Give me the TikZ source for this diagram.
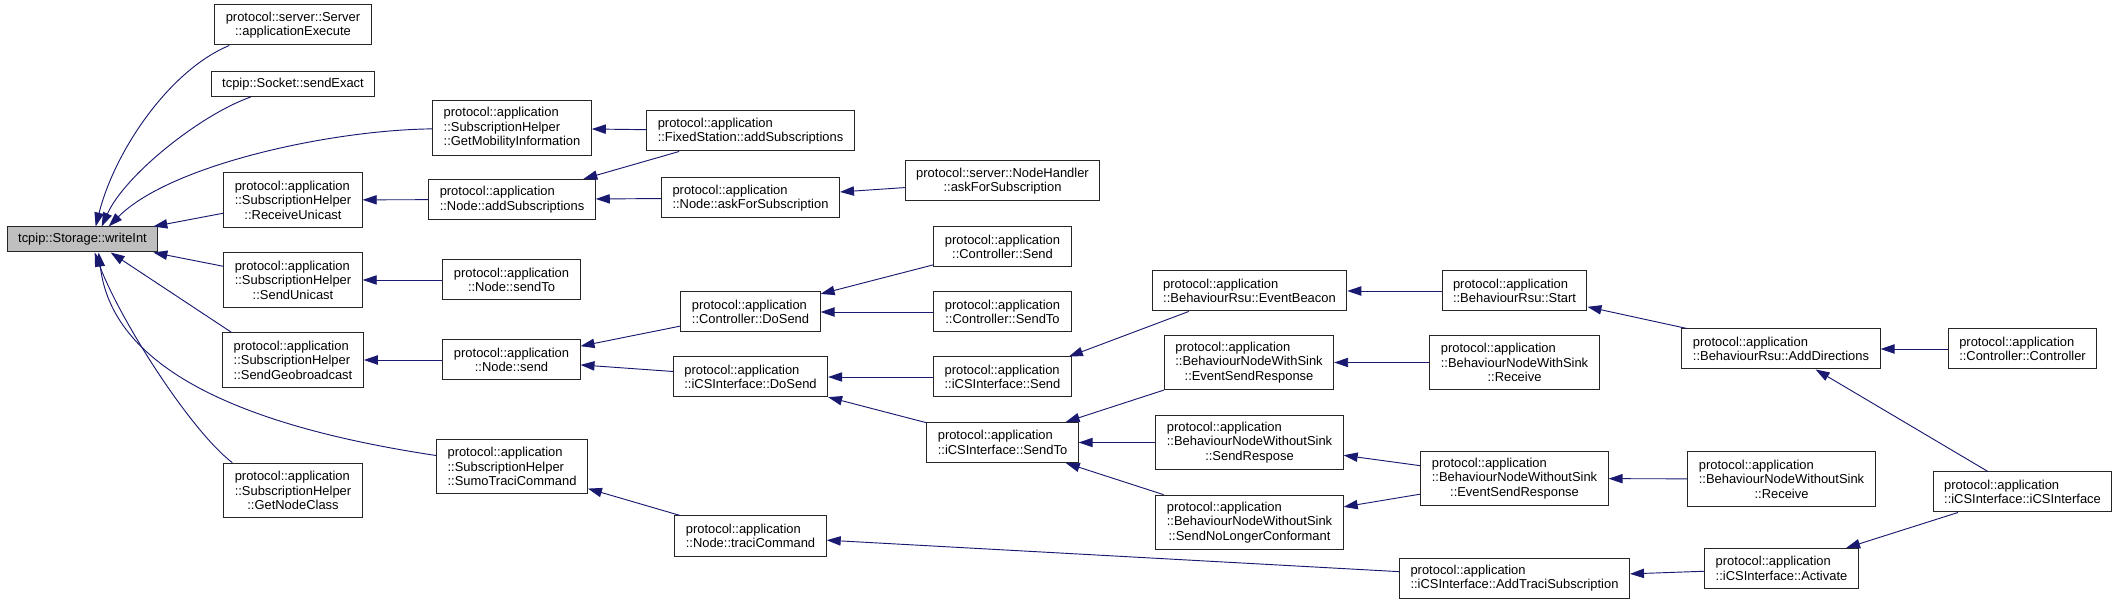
\documentclass[tikz,border=0pt]{standalone}
\usepackage{fontspec}
\setmainfont{Liberation Sans}
\usepackage{tikz}
\usepackage{xcolor}
\usetikzlibrary{arrows.meta,calc}
\definecolor{callblue}{RGB}{25,25,112}
\definecolor{focusgray}{RGB}{191,191,191}
\newcommand{\cl}[1]{\hspace*{\fill}#1\hspace*{\fill}}

\begin{document}
\begin{tikzpicture}[x=0.75pt,y=-0.75pt,>={Triangle[length=10.5pt,width=7pt]},
    fn/.style={draw=black!85,line width=0.75pt,fill=white,align=left,
      inner xsep=8.25pt,inner ysep=2pt,font=\fontsize{9.7}{10.8}\selectfont},
    one/.style={fn,minimum height=18.75pt},
    two/.style={fn,minimum height=30pt},
    three/.style={fn,minimum height=41pt},
    call/.style={->,draw=callblue,line width=0.7pt}]
  \useasboundingbox (0,0) rectangle (2120,605);
  % 被调用函数
  \node[one,fill=focusgray] (writeInt) at (82.5,239.5) {tcpip::Storage::writeInt};
  % 第一列
  \node[two] (apExec) at (293,25) {protocol::server::Server\\\cl{::applicationExecute}};
  \node[one] (sendExact) at (293,84) {tcpip::Socket::sendExact};
  \node[three] (recvUni) at (293,200) {protocol::application\\::SubscriptionHelper\\\cl{::ReceiveUnicast}};
  \node[three] (sendUni) at (293,280) {protocol::application\\::SubscriptionHelper\\\cl{::SendUnicast}};
  \node[three] (sendGeo) at (293,360) {protocol::application\\::SubscriptionHelper\\\cl{::SendGeobroadcast}};
  \node[three] (getNodeClass) at (293,490.5) {protocol::application\\::SubscriptionHelper\\\cl{::GetNodeClass}};
  % 第二列
  \node[three] (getMob) at (512,128) {protocol::application\\::SubscriptionHelper\\\cl{::GetMobilityInformation}};
  \node[two] (nodeAddSub) at (512,199.5) {protocol::application\\\cl{::Node::addSubscriptions}};
  \node[two] (nodeSendTo) at (511.5,280) {protocol::application\\\cl{::Node::sendTo}};
  \node[two] (nodeSend) at (511.5,360) {protocol::application\\\cl{::Node::send}};
  \node[three] (sumoTraci) at (512,466.5) {protocol::application\\::SubscriptionHelper\\\cl{::SumoTraciCommand}};
  % 第三列
  \node[two] (fixedAddSub) at (750.5,131) {protocol::application\\\cl{::FixedStation::addSubscriptions}};
  \node[two] (askForSub) at (750.5,198) {protocol::application\\\cl{::Node::askForSubscription}};
  \node[two] (ctrlDoSend) at (750.5,312) {protocol::application\\\cl{::Controller::DoSend}};
  \node[two] (icsDoSend) at (750.5,377) {protocol::application\\\cl{::iCSInterface::DoSend}};
  \node[two] (traciCmd) at (750.5,536) {protocol::application\\\cl{::Node::traciCommand}};
  % 第四列
  \node[two] (nhAskForSub) at (1002.5,181) {protocol::server::NodeHandler\\\cl{::askForSubscription}};
  \node[two] (ctrlSend) at (1002.5,247) {protocol::application\\\cl{::Controller::Send}};
  \node[two] (ctrlSendTo) at (1002.5,312) {protocol::application\\\cl{::Controller::SendTo}};
  \node[two] (icsSend) at (1002.5,377) {protocol::application\\\cl{::iCSInterface::Send}};
  \node[two] (icsSendTo) at (1002.5,442.5) {protocol::application\\\cl{::iCSInterface::SendTo}};
  % 第五列
  \node[two] (eventBeacon) at (1249.5,291) {protocol::application\\\cl{::BehaviourRsu::EventBeacon}};
  \node[three] (wsEventSR) at (1249,362.5) {protocol::application\\::BehaviourNodeWithSink\\\cl{::EventSendResponse}};
  \node[three] (wosSendResp) at (1249.5,442.5) {protocol::application\\::BehaviourNodeWithoutSink\\\cl{::SendRespose}};
  \node[three] (wosNoLonger) at (1249.5,522.5) {protocol::application\\::BehaviourNodeWithoutSink\\\cl{::SendNoLongerConformant}};
  % 第六列
  \node[two] (rsuStart) at (1514.5,291) {protocol::application\\\cl{::BehaviourRsu::Start}};
  \node[three] (wsReceive) at (1514.5,362.5) {protocol::application\\::BehaviourNodeWithSink\\\cl{::Receive}};
  \node[three] (wosEventSR) at (1514.5,478.5) {protocol::application\\::BehaviourNodeWithoutSink\\\cl{::EventSendResponse}};
  \node[two] (addTraciSub) at (1514.5,578) {protocol::application\\\cl{::iCSInterface::AddTraciSubscription}};
  % 第七列
  \node[two] (addDirections) at (1781,349) {protocol::application\\\cl{::BehaviourRsu::AddDirections}};
  \node[three] (wosReceive) at (1781.5,479) {protocol::application\\::BehaviourNodeWithoutSink\\\cl{::Receive}};
  \node[two] (activate) at (1781.5,568.5) {protocol::application\\\cl{::iCSInterface::Activate}};
  % 第八列
  \node[two] (ctrlCtor) at (2022.5,349) {protocol::application\\\cl{::Controller::Controller}};
  \node[two] (icsCtor) at (2022.5,492) {protocol::application\\\cl{::iCSInterface::iCSInterface}};

  % 指向 writeInt 的调用
  \draw[call] ($(apExec.south west)+(15,0)$) .. controls (170,70) and (115,150) .. ($(writeInt.north west)+(89,0)$);
  \draw[call] ($(sendExact.south west)+(40,0)$) .. controls (200,115) and (125,175) .. ($(writeInt.north west)+(95,0)$);
  \draw[call] (getMob) .. controls (330,130) and (170,165) .. ($(writeInt.north west)+(102,0)$);
  \draw[call] (recvUni) -- ($(writeInt.north east)+(-5,0)$);
  \draw[call] (sendUni) -- ($(writeInt.south east)+(-5,0)$);
  \draw[call] ($(sendGeo.north west)+(9,0)$) -- ($(writeInt.south west)+(104,0)$);
  \draw[call] ($(getNodeClass.north west)+(9,0)$) .. controls (190,430) and (120,320) .. ($(writeInt.south west)+(88,0)$);
  \draw[call] ($(sumoTraci.west)+(0,-11)$) .. controls (200,420) and (110,350) .. ($(writeInt.south west)+(92,0)$);
  % 其余调用
  \draw[call] (fixedAddSub) -- (getMob);
  \draw[call] (fixedAddSub) -- (nodeAddSub);
  \draw[call] (askForSub) -- (nodeAddSub);
  \draw[call] (nodeAddSub) -- (recvUni);
  \draw[call] (nodeSendTo) -- (sendUni);
  \draw[call] (nodeSend) -- (sendGeo);
  \draw[call] (traciCmd) -- (sumoTraci);
  \draw[call] (ctrlDoSend) -- (nodeSend);
  \draw[call] (icsDoSend) -- (nodeSend);
  \draw[call] (nhAskForSub) -- (askForSub);
  \draw[call] (ctrlSend) -- (ctrlDoSend);
  \draw[call] (ctrlSendTo) -- (ctrlDoSend);
  \draw[call] (icsSend) -- (icsDoSend);
  \draw[call] (icsSendTo) -- (icsDoSend);
  \draw[call] (addTraciSub) -- (traciCmd);
  \draw[call] ($(eventBeacon.south west)+(37,0)$) .. controls (1150,326) and (1105,343) .. ($(icsSend.north east)+(-3,0)$);
  \draw[call] (wsEventSR) -- (icsSendTo);
  \draw[call] (wosSendResp) -- (icsSendTo);
  \draw[call] (wosNoLonger) -- (icsSendTo);
  \draw[call] (rsuStart) -- (eventBeacon);
  \draw[call] (wsReceive) -- (wsEventSR);
  \draw[call] (wosEventSR) -- (wosSendResp);
  \draw[call] (wosEventSR) -- (wosNoLonger);
  \draw[call] (activate) -- (addTraciSub);
  \draw[call] (addDirections) -- (rsuStart);
  \draw[call] (wosReceive) -- (wosEventSR);
  \draw[call] (ctrlCtor) -- (addDirections);
  \draw[call] (icsCtor) -- (addDirections);
  \draw[call] (icsCtor) -- (activate);
\end{tikzpicture}
\end{document}
